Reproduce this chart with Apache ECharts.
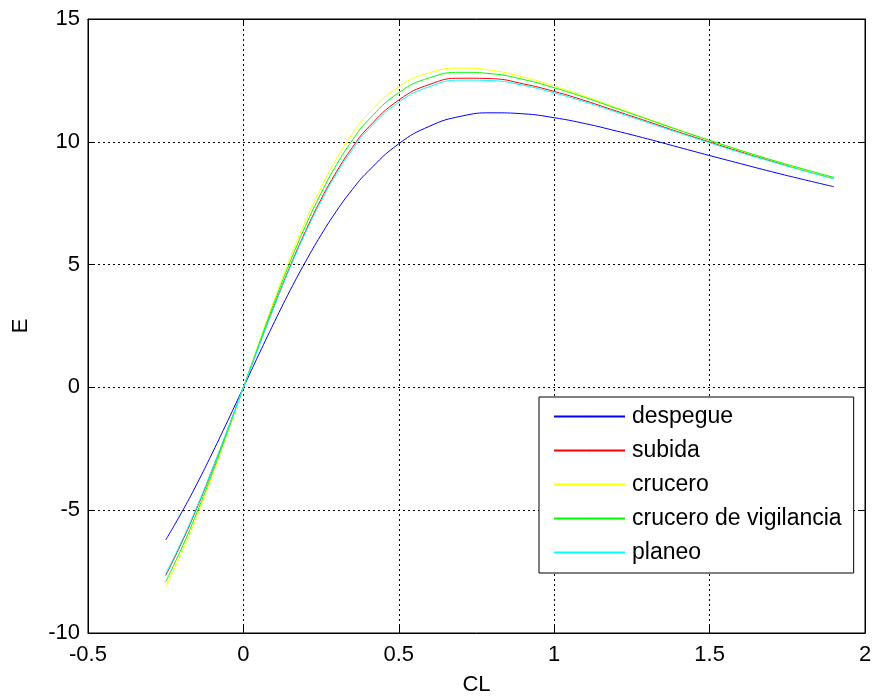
<!DOCTYPE html>
<html>
<head>
<meta charset="utf-8">
<script src="https://cdn.jsdelivr.net/npm/echarts@6/dist/echarts.min.js"></script>
<style>
html,body{margin:0;padding:0;background:#fff;}
#chart{width:877px;height:697px;}
</style>
</head>
<body>
<div id="chart"></div>
<script>
// CL values (x axis)
const CL = [-0.25,-0.2,-0.15,-0.1,-0.05,0,0.05,0.1,0.15,0.2,0.25,0.3,0.35,0.4,0.5,0.6,0.7,0.8,0.9,1.0,1.1,1.2,1.3,1.4,1.5,1.6,1.7,1.8,1.9];
// E values, one array per flight phase
const despegue = [-6.21,-5.12,-3.94,-2.67,-1.35,0,1.35,2.67,3.94,5.12,6.21,7.19,8.05,8.78,9.92,10.64,11.04,11.18,11.14,10.98,10.74,10.44,10.12,9.78,9.44,9.11,8.78,8.47,8.17];
const subida = [-7.66,-6.36,-4.92,-3.35,-1.70,0,1.70,3.35,4.92,6.36,7.66,8.79,9.76,10.56,11.70,12.34,12.59,12.57,12.36,12.05,11.67,11.25,10.83,10.40,9.99,9.59,9.21,8.85,8.51];
const crucero = [-8.14,-6.78,-5.26,-3.59,-1.82,0,1.82,3.59,5.26,6.78,8.14,9.32,10.31,11.12,12.24,12.82,13.00,12.91,12.64,12.27,11.85,11.39,10.94,10.49,10.05,9.64,9.25,8.87,8.53];
const vigilancia = [-7.91,-6.58,-5.10,-3.48,-1.76,0,1.76,3.48,5.10,6.58,7.91,9.07,10.05,10.86,12.00,12.61,12.83,12.77,12.54,12.20,11.80,11.36,10.92,10.48,10.06,9.65,9.26,8.90,8.55];
const planeo = [-7.58,-6.30,-4.87,-3.32,-1.68,0,1.68,3.32,4.87,6.30,7.58,8.71,9.67,10.47,11.61,12.25,12.51,12.49,12.30,11.99,11.62,11.21,10.79,10.37,9.96,9.56,9.19,8.83,8.49];

const seriesNames = ['despegue','subida','crucero','crucero de vigilancia','planeo'];
const seriesData = [despegue, subida, crucero, vigilancia, planeo];
const seriesColors = ['#0000ff','#ff0000','#ffff00','#00ff00','#00ffff'];

const xTicks = {min:-0.5, max:2, interval:0.5};
const yTicks = {min:-10, max:15, interval:5};

const FONT = 'Liberation Sans, Arial, Helvetica, sans-serif';
const chart = echarts.init(document.getElementById('chart'), null, {renderer:'canvas'});

const gridLine = {show:true, lineStyle:{color:'#000', type:[2,3], width:1}};
const tick = {show:true, inside:true, length:7, lineStyle:{color:'#000'}};

chart.setOption({
  animation:false,
  backgroundColor:'#fff',
  textStyle:{fontFamily:FONT},
  grid:{left:88, right:12, top:19, bottom:64, containLabel:false, outerBoundsMode:'none',
        show:true, borderColor:'#000', borderWidth:1, backgroundColor:'#fff'},
  legend:{
    orient:'vertical',
    left:539, top:397,
    data:seriesNames,
    backgroundColor:'#fff',
    borderColor:'#000', borderWidth:1,
    padding:[8,12,9,14],
    itemWidth:71, itemHeight:2, itemGap:11,
    textStyle:{fontFamily:FONT, fontSize:23, color:'#000', padding:[0,0,0,2]}
  },
  xAxis:[{
    type:'value', min:xTicks.min, max:xTicks.max, interval:xTicks.interval,
    name:'CL', nameLocation:'middle', nameGap:41,
    nameTextStyle:{fontFamily:FONT, fontSize:22, color:'#000'},
    axisLine:{show:true, onZero:false, lineStyle:{color:'#000'}},
    axisTick:tick,
    axisLabel:{fontFamily:FONT, fontSize:22, color:'#000', margin:11},
    splitLine:gridLine
  },{
    type:'value', position:'top', min:xTicks.min, max:xTicks.max, interval:xTicks.interval,
    axisLine:{show:true, onZero:false, lineStyle:{color:'#000'}},
    axisTick:tick, axisLabel:{show:false}, splitLine:{show:false}
  }],
  yAxis:[{
    type:'value', min:yTicks.min, max:yTicks.max, interval:yTicks.interval,
    name:'E', nameLocation:'middle', nameGap:56, nameRotate:90,
    nameTextStyle:{fontFamily:FONT, fontSize:22, color:'#000'},
    axisLine:{show:true, onZero:false, lineStyle:{color:'#000'}},
    axisTick:tick,
    axisLabel:{fontFamily:FONT, fontSize:22, color:'#000', margin:8},
    splitLine:gridLine
  },{
    type:'value', position:'right', min:yTicks.min, max:yTicks.max, interval:yTicks.interval,
    axisLine:{show:true, onZero:false, lineStyle:{color:'#000'}},
    axisTick:tick, axisLabel:{show:false}, splitLine:{show:false}
  }],
  series: seriesNames.map((n,i)=>({
    name:n, type:'line', smooth:true, symbol:'none', showSymbol:false,
    xAxisIndex:0, yAxisIndex:0,
    color:seriesColors[i],
    lineStyle:{color:seriesColors[i], width:1},
    data: CL.map((x,j)=>[x, seriesData[i][j]])
  }))
});
</script>
</body>
</html>
